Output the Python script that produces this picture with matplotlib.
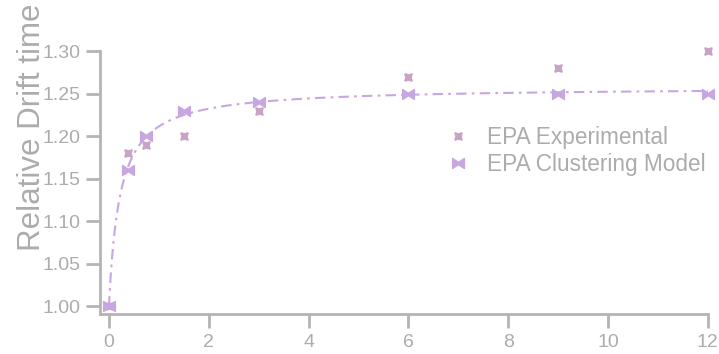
"""Relative drift time vs concentration: EPA measurements against the clustering model."""
import numpy as np
import matplotlib
matplotlib.use("Agg")
import matplotlib.pyplot as plt
from matplotlib.path import Path

plt.rcParams["font.family"] = ["Liberation Sans", "DejaVu Sans"]

conc = [0, 0.375, 0.75, 1.5, 3, 6, 9, 12]
epa_exp = [1.00, 1.18, 1.19, 1.20, 1.23, 1.27, 1.28, 1.30]
epa_model = [1.00, 1.16, 1.20, 1.23, 1.24, 1.25, 1.25, 1.25]
xticks = [0, 2, 4, 6, 8, 10, 12]
yticks = [1.00, 1.05, 1.10, 1.15, 1.20, 1.25, 1.30]

GREY = "#b4b4b4"
TXT = "#acacac"
C_EXP = "#c9a3c6"
C_MOD = "#c8a6e2"

# bowtie marker for the model points
bowtie = Path([(-1, 0.85), (0, 0.2), (1, 0.85), (1, -0.85), (0, -0.2), (-1, -0.85), (-1, 0.85)],
              [Path.MOVETO] + [Path.LINETO] * 5 + [Path.CLOSEPOLY])

# Langmuir-type trend through the model points: y - 1 = a x / (b + x)
# b by grid search, a by linear least squares for each b
xm = np.array(conc, float)
ym = np.array(epa_model, float) - 1
best = None
for b in np.linspace(0.01, 2, 2000):
    f = xm / (b + xm)
    a = f @ ym / (f @ f)
    err = np.sum((a * f - ym) ** 2)
    if best is None or err < best[0]:
        best = (err, a, b)
_, a, b = best
xs = np.linspace(0, conc[-1], 400)
ys = 1 + a * xs / (b + xs)

fig = plt.figure(figsize=(7.19, 3.54), dpi=100)
ax = fig.add_axes([0.139, 0.113, 0.86, 0.791])

ax.plot(xs, ys, color=C_MOD, lw=1.5, dashes=(5, 2.5, 1.3, 2.5), zorder=2)
ax.plot(conc, epa_exp, ls="none", marker=(4, 1, 45), ms=7.5, color=C_EXP,
        label="EPA Experimental", zorder=3)
ax.plot(conc, epa_model, ls="none", marker=bowtie, ms=8.5, color=C_MOD,
        label="EPA Clustering Model", zorder=4)

ax.set_xlim(-0.18, 12.21)
ax.set_ylim(0.991, 1.32)
ax.set_xticks(xticks)
ax.set_yticks(yticks)
ax.set_yticklabels([f"{v:.2f}" for v in yticks])
ax.spines["top"].set_visible(False)
ax.spines["right"].set_visible(False)
for s in ("left", "bottom"):
    ax.spines[s].set_color(GREY)
    ax.spines[s].set_linewidth(2)
ax.spines["left"].set_bounds(0.991, 1.30)
ax.spines["bottom"].set_bounds(-0.18, 12)
ax.tick_params(colors=GREY, labelcolor=TXT, labelsize=14, width=2, length=10, pad=4.3)

ax.set_ylabel("Relative Drift time", fontsize=22.5, color=TXT)
ax.yaxis.set_label_coords(-0.085, 0.666)

# tick labels of the panel above, clipped at the top edge
top = ax.secondary_xaxis(1.108)
top.set_xticks(xticks)
top.tick_params(length=0, pad=0, labelcolor=TXT, labelsize=14)
top.spines["top"].set_visible(False)

leg = ax.legend(loc="upper left", bbox_to_anchor=(0.546, 0.705), frameon=False, fontsize=16.3,
                handlelength=1.0, handletextpad=0.8, labelspacing=0.2, borderaxespad=0)
for t in leg.get_texts():
    t.set_color(TXT)

fig.savefig("out.png", dpi=100)
